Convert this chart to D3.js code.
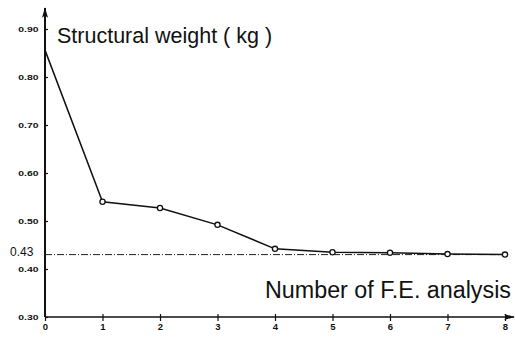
<!DOCTYPE html>
<html>
<head>
<meta charset="utf-8">
<script src="https://cdn.jsdelivr.net/npm/d3@7"></script>
<style>
  html, body { margin: 0; padding: 0; background: #fff; }
  svg { display: block; }
  text { font-family: "Liberation Sans", Arial, sans-serif; fill: #111; }
</style>
</head>
<body>
<svg id="chart" width="515" height="341"></svg>
<script>
// iterations of the F.E. analysis and the structural weight after each one
const iterations = [0, 1, 2, 3, 4, 5, 6, 7, 8]
const weights = [0.856, 0.540, 0.527, 0.492, 0.442, 0.435, 0.434, 0.431, 0.430]
const yTicks = [0.30, 0.40, 0.50, 0.60, 0.70, 0.80, 0.90]
const xTicks = [0, 1, 2, 3, 4, 5, 6, 7, 8]
const optimum = 0.43

const svg = d3.select('#chart')

const x = d3.scaleLinear().domain([0, 8]).range([45, 505])
const y = d3.scaleLinear().domain([0.30, 0.90]).range([317, 29])

// arrow marker for both axes (long, narrow head like the original drawing)
svg.append('defs').append('marker')
  .attr('id', 'arrow')
  .attr('viewBox', '0 0 14 8')
  .attr('refX', 13).attr('refY', 4)
  .attr('markerWidth', 12).attr('markerHeight', 6)
  .attr('markerUnits', 'userSpaceOnUse')
  .attr('orient', 'auto')
  .append('path')
  .attr('d', 'M0,0 L14,4 L0,8 L3,4 Z')
  .attr('fill', '#111')

// axis lines with arrows
svg.append('line')
  .attr('x1', x(0)).attr('y1', y(0.30))
  .attr('x2', x(0)).attr('y2', 8)
  .attr('stroke', '#111').attr('stroke-width', 2)
  .attr('marker-end', 'url(#arrow)')
svg.append('line')
  .attr('x1', x(0)).attr('y1', y(0.30))
  .attr('x2', 514).attr('y2', y(0.30))
  .attr('stroke', '#111').attr('stroke-width', 1.6)
  .attr('marker-end', 'url(#arrow)')

// y axis ticks
const yAxis = svg.append('g')
  .attr('transform', `translate(${x(0)},0)`)
  .call(d3.axisLeft(y).tickValues(yTicks).tickSize(4).tickPadding(4).tickFormat(d3.format('.2f')))
yAxis.select('.domain').remove()
yAxis.selectAll('.tick line').attr('x2', 3).attr('stroke', '#111').attr('stroke-width', 1.2)
yAxis.selectAll('.tick text')
  .style('font-size', '8px').style('font-weight', 'bold')
  .attr('transform', 'scale(1.3,1)')
  .attr('x', -5)

// x axis ticks
const xAxis = svg.append('g')
  .attr('transform', `translate(0,${y(0.30)})`)
  .call(d3.axisBottom(x).tickValues(xTicks).tickSize(4).tickPadding(2).tickFormat(d3.format('d')))
xAxis.select('.domain').remove()
xAxis.selectAll('.tick line').attr('y1', -3).attr('stroke', '#111').attr('stroke-width', 1.2)
xAxis.selectAll('.tick text')
  .style('font-size', '9.5px').style('font-weight', 'bold')

// dash-dot optimum line
svg.append('line')
  .attr('x1', x(0)).attr('y1', y(optimum))
  .attr('x2', x(8)).attr('y2', y(optimum))
  .attr('stroke', '#222').attr('stroke-width', 1)
  .attr('stroke-dasharray', '7,2,1,2')

svg.append('text')
  .attr('x', 10).attr('y', y(optimum) + 1)
  .style('font-size', '12px')
  .text('0.43')

// weight history
const points = iterations.map((d, i) => ({ it: d, w: weights[i] }))

svg.append('path')
  .datum(points)
  .attr('fill', 'none')
  .attr('stroke', '#111')
  .attr('stroke-width', 1.5)
  .attr('d', d3.line().x(d => x(d.it)).y(d => y(d.w)))

svg.selectAll('.pt')
  .data(points.slice(1))
  .enter()
  .append('circle')
  .attr('class', 'pt')
  .attr('cx', d => x(d.it))
  .attr('cy', d => y(d.w))
  .attr('r', 2.6)
  .attr('fill', '#fff')
  .attr('stroke', '#111')
  .attr('stroke-width', 1.3)

// titles
svg.append('text')
  .attr('x', 57).attr('y', 43)
  .style('font-size', '21.5px')
  .text('Structural weight ( kg )')

svg.append('text')
  .attr('x', 511).attr('y', 298)
  .attr('text-anchor', 'end')
  .style('font-size', '23.3px')
  .text('Number of F.E. analysis')
</script>
</body>
</html>
